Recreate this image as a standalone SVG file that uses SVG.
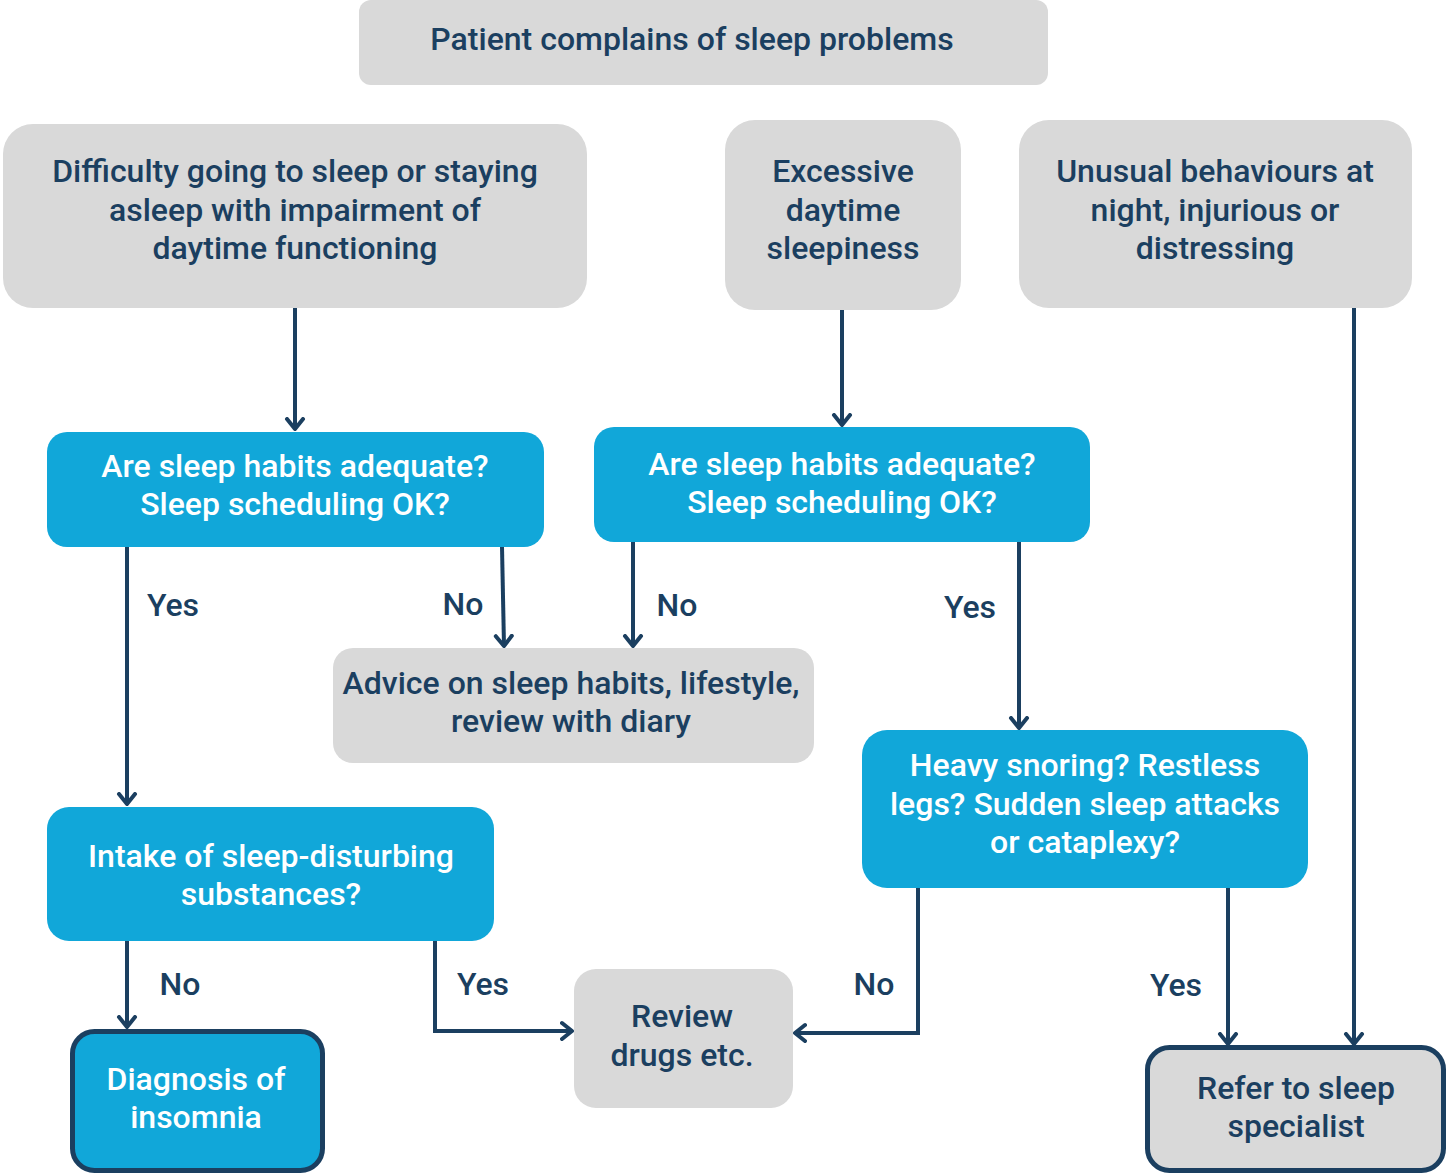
<svg xmlns="http://www.w3.org/2000/svg" width="1447" height="1175" viewBox="0 0 1447 1175">
<style>
text{font-family:Roboto,"Liberation Sans",sans-serif;font-weight:500;font-size:32px;text-anchor:middle;dominant-baseline:central}
.g{fill:#d9d9d9}
.b{fill:#11a7d9}
.dk{fill:#1b3f60}
.wt{fill:#ffffff}
.edge{fill:none;stroke:#1b3f60;stroke-width:4}
.strong{stroke:#1b3f60;stroke-width:5}
.lbl{fill:#1b3f60}
</style>
<defs>
<marker id="arr" markerUnits="userSpaceOnUse" markerWidth="24" markerHeight="24" refX="12" refY="12" orient="auto">
<path d="M2,4 L12,12 L2,20" fill="none" stroke="#1b3f60" stroke-width="4" stroke-linecap="round" stroke-linejoin="round"/>
</marker>
</defs>
<g id="connectors">
<line class="edge" x1="295" y1="308" x2="295" y2="429" marker-end="url(#arr)"/>
<line class="edge" x1="842" y1="310" x2="842" y2="425" marker-end="url(#arr)"/>
<line class="edge" x1="127" y1="545" x2="127" y2="804" marker-end="url(#arr)"/>
<line class="edge" x1="502" y1="547" x2="504" y2="646" marker-end="url(#arr)"/>
<line class="edge" x1="633" y1="542" x2="633" y2="646" marker-end="url(#arr)"/>
<line class="edge" x1="1019" y1="542" x2="1019" y2="728" marker-end="url(#arr)"/>
<line class="edge" x1="127" y1="941" x2="127" y2="1027" marker-end="url(#arr)"/>
<polyline class="edge" points="435,941 435,1031 572,1031" marker-end="url(#arr)"/>
<polyline class="edge" points="918,888 918,1033 795,1033" marker-end="url(#arr)"/>
<line class="edge" x1="1228" y1="888" x2="1228" y2="1044" marker-end="url(#arr)"/>
<line class="edge" x1="1354" y1="308" x2="1354" y2="1044" marker-end="url(#arr)"/>
<text class="lbl" x="173" y="605">Yes</text>
<text class="lbl" x="463" y="604">No</text>
<text class="lbl" x="677" y="605">No</text>
<text class="lbl" x="970" y="607">Yes</text>
<text class="lbl" x="180" y="984">No</text>
<text class="lbl" x="483" y="984">Yes</text>
<text class="lbl" x="874" y="984">No</text>
<text class="lbl" x="1176" y="985">Yes</text>
</g>
<g id="start">
<rect class="g" x="359" y="0" width="689" height="85" rx="12"/>
<text class="dk" x="692" y="39">Patient complains of sleep problems</text>
</g>
<g id="difficulty">
<rect class="g" x="3" y="124" width="584" height="184" rx="30"/>
<text class="dk" x="295" y="171">Difficulty going to sleep or staying</text>
<text class="dk" x="295" y="210">asleep with impairment of</text>
<text class="dk" x="295" y="248">daytime functioning</text>
</g>
<g id="excessive">
<rect class="g" x="725" y="120" width="236" height="190" rx="30"/>
<text class="dk" x="843" y="171">Excessive</text>
<text class="dk" x="843" y="210">daytime</text>
<text class="dk" x="843" y="248">sleepiness</text>
</g>
<g id="unusual">
<rect class="g" x="1019" y="120" width="393" height="188" rx="30"/>
<text class="dk" x="1215" y="171">Unusual behaviours at</text>
<text class="dk" x="1215" y="210">night, injurious or</text>
<text class="dk" x="1215" y="248">distressing</text>
</g>
<g id="q1">
<rect class="b" x="47" y="432" width="497" height="115" rx="20"/>
<text class="wt" x="295" y="466">Are sleep habits adequate?</text>
<text class="wt" x="295" y="504">Sleep scheduling OK?</text>
</g>
<g id="q2">
<rect class="b" x="594" y="427" width="496" height="115" rx="20"/>
<text class="wt" x="842" y="464">Are sleep habits adequate?</text>
<text class="wt" x="842" y="502">Sleep scheduling OK?</text>
</g>
<g id="advice">
<rect class="g" x="333" y="648" width="481" height="115" rx="20"/>
<text class="dk" x="571" y="683">Advice on sleep habits, lifestyle,</text>
<text class="dk" x="571" y="721">review with diary</text>
</g>
<g id="heavy">
<rect class="b" x="862" y="730" width="446" height="158" rx="25"/>
<text class="wt" x="1085" y="765">Heavy snoring? Restless</text>
<text class="wt" x="1085" y="804">legs? Sudden sleep attacks</text>
<text class="wt" x="1085" y="842">or cataplexy?</text>
</g>
<g id="intake">
<rect class="b" x="47" y="807" width="447" height="134" rx="22"/>
<text class="wt" x="271" y="856">Intake of sleep-disturbing</text>
<text class="wt" x="271" y="894">substances?</text>
</g>
<g id="diagnosis">
<rect class="b strong" x="72.5" y="1031.5" width="250" height="139" rx="22"/>
<text class="wt" x="196" y="1079">Diagnosis of</text>
<text class="wt" x="196" y="1117">insomnia</text>
</g>
<g id="review">
<rect class="g" x="574" y="969" width="219" height="139" rx="22"/>
<text class="dk" x="682" y="1016">Review</text>
<text class="dk" x="682" y="1055">drugs etc.</text>
</g>
<g id="refer">
<rect class="g strong" x="1147.5" y="1047.5" width="296" height="123" rx="22"/>
<text class="dk" x="1296" y="1088">Refer to sleep</text>
<text class="dk" x="1296" y="1126">specialist</text>
</g>
</svg>
